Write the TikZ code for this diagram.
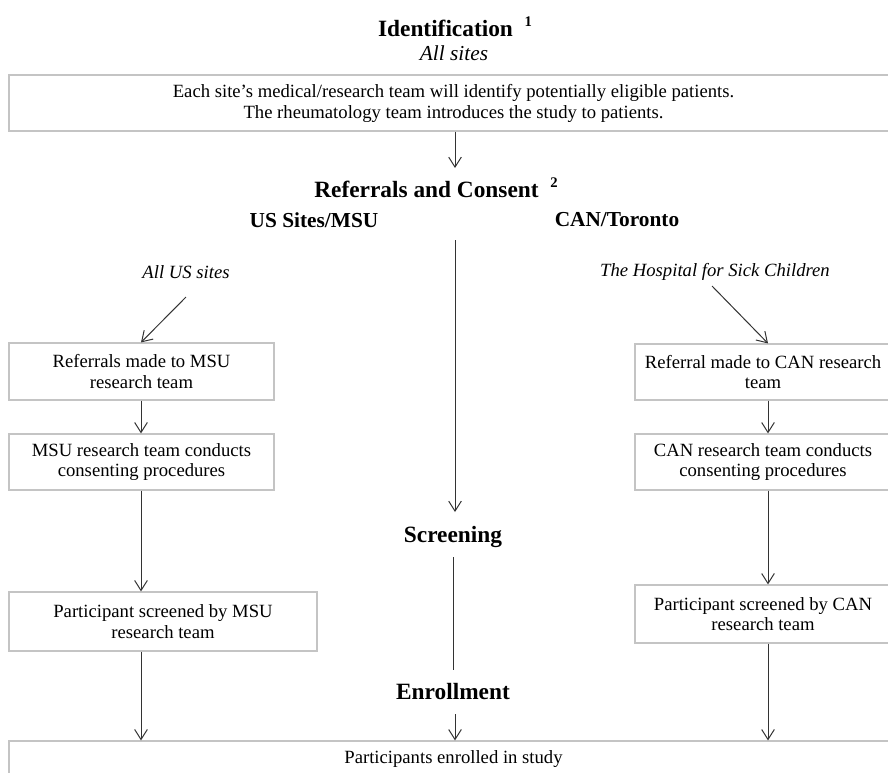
\documentclass[tikz,border=0pt]{standalone}
\usepackage{fontspec}
\setmainfont{Liberation Serif}
\usetikzlibrary{arrows.meta}
\definecolor{boxgray}{HTML}{C4C4C4}
\definecolor{arrgray}{HTML}{333333}

\begin{document}
\begin{tikzpicture}[x=0.75pt,y=-0.75pt]
    \tikzstyle{head}=[inner sep=0pt, font=\fontsize{17.5}{20}\selectfont\bfseries]
    \tikzstyle{subhead}=[inner sep=0pt, font=\fontsize{16}{19}\selectfont\bfseries]
    \tikzstyle{site}=[inner sep=0pt, font=\fontsize{14}{17}\selectfont\itshape]
    \tikzstyle{box}=[draw=boxgray, line width=0.9pt, align=center, inner sep=0pt,
                     font=\fontsize{14}{15.2}\selectfont]
    \tikzstyle{arr}=[draw=arrgray, line width=0.75pt, -{Straight Barb[length=7.5pt,width=9.5pt]}]
    \tikzstyle{ln}=[draw=arrgray, line width=0.75pt]

    \useasboundingbox (0,0) rectangle (888,772);
    \clip (0,0) rectangle (888,772);

    % identification
    \node[head] (ident) at (455,27) {Identification\ \ \raisebox{0.45em}{\fontsize{11}{13}\selectfont 1}};
    \node[inner sep=0pt, font=\fontsize{16}{19}\selectfont\itshape] (allsites) at (454,53) {All sites};
    \node[box, minimum width=889*0.75pt, minimum height=56*0.75pt, font=\fontsize{14}{15.8}\selectfont] (idbox) at (453.5,103)
      {Each site’s medical/research team will identify potentially eligible patients.\\
       The rheumatology team introduces the study to patients.};

    % referrals and consent
    \node[head] (refhead) at (436,188) {Referrals and Consent\ \ \raisebox{0.45em}{\fontsize{11}{13}\selectfont 2}};
    \node[subhead] (ushead) at (314,220) {US Sites/MSU};
    \node[subhead] (canhead) at (617,220) {CAN/Toronto};
    \node[site] (usall) at (186,272) {All US sites};
    \node[site] (cansick) at (715,272) {The Hospital for Sick Children};

    \node[box, minimum width=265*0.75pt, minimum height=57*0.75pt] (usref) at (141.5,371.5)
      {Referrals made to MSU\\research team};
    \node[box, minimum width=265*0.75pt, minimum height=56*0.75pt] (uscons) at (141.5,462)
      {MSU research team conducts\\consenting procedures};
    \node[box, minimum width=308*0.75pt, minimum height=59*0.75pt] (usscr) at (163,621.5)
      {Participant screened by MSU\\research team};

    \node[box, minimum width=256*0.75pt, minimum height=56*0.75pt] (canref) at (763,372)
      {Referral made to CAN research\\team};
    \node[box, minimum width=256*0.75pt, minimum height=56*0.75pt] (cancons) at (763,462)
      {CAN research team conducts\\consenting procedures};
    \node[box, minimum width=256*0.75pt, minimum height=58*0.75pt] (canscr) at (763,614)
      {Participant screened by CAN\\research team};

    % screening and enrollment
    \node[head] (screenhd) at (453,537) {Screening};
    \node[head] (enrollhd) at (453,692) {Enrollment};
    \node[box, minimum width=889*0.75pt, minimum height=36*0.75pt] (enrolbox) at (453.5,759)
      {Participants enrolled in study};

    % free ends
    \coordinate (refin) at (455,168);
    \coordinate (midtop) at (455,240);
    \coordinate (scrin) at (455,512);
    \coordinate (scrout) at (453,557);
    \coordinate (enrout) at (453,670);
    \coordinate (enrin) at (455,714);
    \coordinate (usfrom) at (186,297);
    \coordinate (canfrom) at (712,286);
    \coordinate (usx) at (141,0);
    \coordinate (canx) at (768,0);

    \draw[arr] (idbox.south -| refin) -- (refin);
    \draw[arr] (midtop) -- (scrin);
    \draw[ln] (scrout) -- (enrout);
    \draw[arr] (enrin) -- (enrolbox.north -| enrin);

    \draw[arr] (usfrom) -- (usref.north -| usx);
    \draw[arr] (canfrom) -- (canref.north -| canx);
    \foreach \a/\b in {usref/uscons,uscons/usscr,usscr/enrolbox}
      {\draw[arr] (\a.south -| usx) -- (\b.north -| usx);}
    \foreach \a/\b in {canref/cancons,cancons/canscr,canscr/enrolbox}
      {\draw[arr] (\a.south -| canx) -- (\b.north -| canx);}
\end{tikzpicture}
\end{document}
